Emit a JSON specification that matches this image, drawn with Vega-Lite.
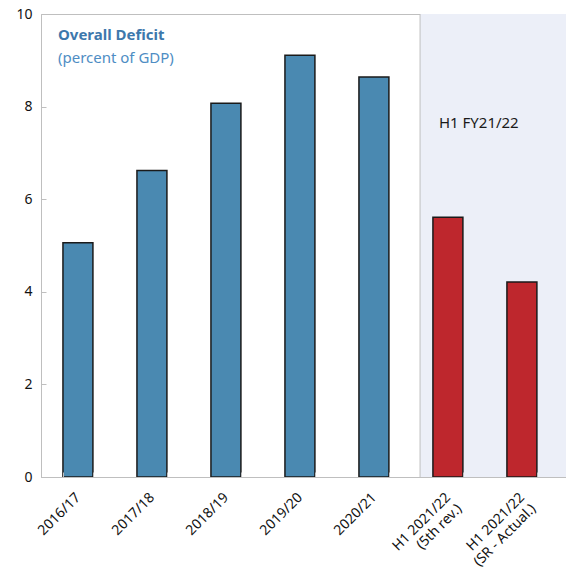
{
  "$schema": "https://vega.github.io/schema/vega-lite/v6.json",
  "autosize": {"type": "none"},
  "padding": {"left": 41, "top": 14, "right": 0, "bottom": 93},
  "width": 525,
  "height": 463,
  "config": {
    "font": "Noto Sans",
    "view": {"stroke": "#BFBFBF", "strokeWidth": 1},
    "axis": {"labelFont": "Noto Sans", "labelFontSize": 14, "labelColor": "#111", "domainColor": "#BFBFBF", "tickColor": "#BFBFBF", "grid": false, "title": null}
  },
  "layer": [
    {
      "data": {"values": [{}]},
      "mark": {"type": "rect", "fill": "#ECEFF8"},
      "encoding": {
        "x": {"datum": "H1 2021/22 (5th rev.)", "bandPosition": -0.43},
        "x2": {"value": "width"},
        "y": {"datum": 10},
        "y2": {"datum": 0}
      }
    },
    {
      "data": {"values": [{}]},
      "mark": {"type": "rule", "stroke": "#BFBFBF", "strokeWidth": 1},
      "encoding": {
        "x": {"datum": "H1 2021/22 (5th rev.)", "bandPosition": -0.43},
        "y": {"datum": 10},
        "y2": {"datum": 0}
      }
    },
    {
      "data": {"values": [
        {"period": "2016/17", "deficit": 5.06, "group": "annual"},
        {"period": "2017/18", "deficit": 6.62, "group": "annual"},
        {"period": "2018/19", "deficit": 8.07, "group": "annual"},
        {"period": "2019/20", "deficit": 9.11, "group": "annual"},
        {"period": "2020/21", "deficit": 8.64, "group": "annual"},
        {"period": "H1 2021/22 (5th rev.)", "deficit": 5.61, "group": "h1"},
        {"period": "H1 2021/22 (SR - Actual.)", "deficit": 4.21, "group": "h1"}
      ]},
      "mark": {"type": "bar", "stroke": "#1a1a1a", "strokeWidth": 1.5},
      "encoding": {
        "x": {"field": "period", "type": "nominal", "sort": null,
          "scale": {"domain": ["2016/17", "2017/18", "2018/19", "2019/20", "2020/21", "H1 2021/22 (5th rev.)", "H1 2021/22 (SR - Actual.)"],
            "paddingInner": 0.595, "paddingOuter": 0.345, "align": 0.43},
          "axis": {"labelAngle": -45, "labelBaseline": "middle", "tickBand": "extent", "tickSize": -5, "labelPadding": 23,
            "labelExpr": "split(replace(datum.label, ' (', '|('), '|')"}},
        "y": {"field": "deficit", "type": "quantitative",
          "scale": {"domain": [0, 10], "nice": false},
          "axis": {"values": [0, 2, 4, 6, 8, 10], "tickSize": -5, "labelPadding": 14}},
        "fill": {"field": "group", "type": "nominal", "legend": null,
          "scale": {"domain": ["annual", "h1"], "range": ["#4A89B1", "#BE272D"]}}
      }
    },
    {
      "data": {"values": [{}]},
      "mark": {"type": "text", "align": "left", "baseline": "middle", "dx": -5, "fontSize": 15, "fontWeight": "bold", "fill": "#3D78AC"},
      "encoding": {"x": {"datum": "2016/17", "bandPosition": 0}, "y": {"datum": 9.55}, "text": {"value": "Overall Deficit"}}
    },
    {
      "data": {"values": [{}]},
      "mark": {"type": "text", "align": "left", "baseline": "middle", "dx": -5, "fontSize": 15, "fontWeight": "normal", "fill": "#4E8DC4"},
      "encoding": {"x": {"datum": "2016/17", "bandPosition": 0}, "y": {"datum": 9.05}, "text": {"value": "(percent of GDP)"}}
    },
    {
      "data": {"values": [{}]},
      "mark": {"type": "text", "align": "left", "baseline": "middle", "dx": 6, "fontSize": 15, "fontWeight": "normal", "fill": "#1a1a1a"},
      "encoding": {"x": {"datum": "H1 2021/22 (5th rev.)", "bandPosition": 0}, "y": {"datum": 7.64}, "text": {"value": "H1 FY21/22"}}
    }
  ]
}
